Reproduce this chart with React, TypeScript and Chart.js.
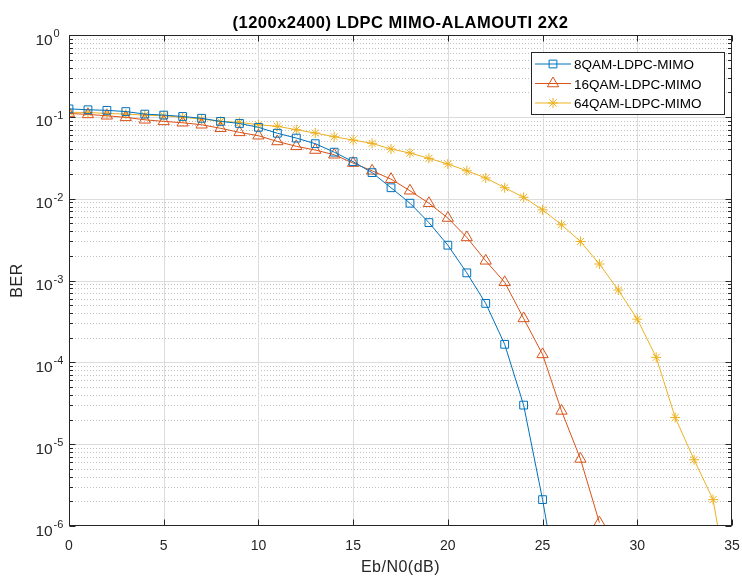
import React, { useEffect, useRef } from 'react';
import { Chart, registerables } from 'chart.js';

Chart.register(...registerables);

// ---- data ----
const ebN0 = [0, 1, 2, 3, 4, 5, 6, 7, 8, 9, 10, 11, 12, 13, 14, 15, 16, 17, 18, 19, 20, 21, 22, 23, 24, 25, 26, 27, 28, 29, 30, 31, 32, 33, 34, 35];

const ber8QAM = [0.125, 0.122, 0.12, 0.116, 0.108, 0.105, 0.101, 0.096, 0.088, 0.083, 0.0744, 0.063, 0.055, 0.047, 0.037, 0.0283, 0.0208, 0.0136, 0.0088, 0.0051, 0.0027, 0.00124, 0.000525, 0.000166, 3.0e-5, 2.1e-6, 1.0e-7];

const ber16QAM = [0.110, 0.107, 0.103, 0.0986, 0.092, 0.088, 0.0847, 0.080, 0.0724, 0.0646, 0.0588, 0.050, 0.0436, 0.0393, 0.0344, 0.0272, 0.0219, 0.0173, 0.0125, 0.0088, 0.0058, 0.00336, 0.00174, 0.00095, 0.000344, 0.000125, 2.55e-5, 6.6e-6, 1.1e-6];

const ber64QAM = [0.1135, 0.113, 0.110, 0.108, 0.105, 0.103, 0.0986, 0.094, 0.088, 0.0857, 0.080, 0.0766, 0.0696, 0.0634, 0.0571, 0.052, 0.0474, 0.0404, 0.0361, 0.0311, 0.0265, 0.0219, 0.0179, 0.0136, 0.0104, 0.0073, 0.0048, 0.0030, 0.00159, 0.000764, 0.000337, 0.000115, 2.12e-5, 6.45e-6, 2.1e-6, 1.0e-7];

const seriesNames = ['8QAM-LDPC-MIMO', '16QAM-LDPC-MIMO', '64QAM-LDPC-MIMO'];
const xTickValues = [0, 5, 10, 15, 20, 25, 30, 35];
const yTickExponents = [0, -1, -2, -3, -4, -5, -6];

const titleText = '(1200x2400) LDPC MIMO-ALAMOUTI 2X2';
const xLabelText = 'Eb/N0(dB)';
const yLabelText = 'BER';

const COLORS = ['#0072BD', '#D95319', '#EDB120'];
const STYLES = ['rect', 'triangle', 'star'];
const RADII = [5.5, 6.5, 5];
const AXIS = '#262626';
const FONT = '"Liberation Sans", Arial, Helvetica, sans-serif';

function drawMarker(ctx: CanvasRenderingContext2D, style: string, cx: number, cy: number, r: number) {
  ctx.beginPath();
  if (style === 'rect') {
    const s = r * Math.SQRT1_2;
    ctx.rect(cx - s, cy - s, 2 * s, 2 * s);
  } else if (style === 'triangle') {
    ctx.moveTo(cx, cy - r);
    ctx.lineTo(cx + 0.866 * r, cy + 0.5 * r);
    ctx.lineTo(cx - 0.866 * r, cy + 0.5 * r);
    ctx.closePath();
  } else {
    for (let i = 0; i < 4; i++) {
      const ang = (i * Math.PI) / 4;
      ctx.moveTo(cx - Math.sin(ang) * r, cy - Math.cos(ang) * r);
      ctx.lineTo(cx + Math.sin(ang) * r, cy + Math.cos(ang) * r);
    }
  }
  ctx.stroke();
}

const matlabPlugin = {
  id: 'matlabLook',
  beforeDatasetsDraw(chart: any) {
    const { ctx, chartArea: a, scales } = chart;
    const xs = scales.x;
    const ys = scales.y;
    ctx.save();
    ctx.lineWidth = 1;
    // minor dotted grid (y)
    ctx.strokeStyle = '#c2c2c2';
    ctx.setLineDash([1, 2]);
    for (let e = -6; e < 0; e++) {
      for (let k = 2; k <= 9; k++) {
        const py = Math.round(ys.getPixelForValue(k * Math.pow(10, e))) + 0.5;
        ctx.beginPath();
        ctx.moveTo(a.left, py);
        ctx.lineTo(a.right, py);
        ctx.stroke();
      }
    }
    ctx.setLineDash([]);
    ctx.strokeStyle = '#dcdcdc';
    for (const e of yTickExponents) {
      if (e === 0 || e === -6) continue;
      const py = Math.round(ys.getPixelForValue(Math.pow(10, e))) + 0.5;
      ctx.beginPath();
      ctx.moveTo(a.left, py);
      ctx.lineTo(a.right, py);
      ctx.stroke();
    }
    for (const v of xTickValues) {
      if (v === 0 || v === 35) continue;
      const px = Math.round(xs.getPixelForValue(v)) + 0.5;
      ctx.beginPath();
      ctx.moveTo(px, a.top);
      ctx.lineTo(px, a.bottom);
      ctx.stroke();
    }
    ctx.restore();
  },
  afterDraw(chart: any) {
    const { ctx, chartArea: a, scales } = chart;
    const xs = scales.x;
    const ys = scales.y;
    ctx.save();
    // box
    ctx.strokeStyle = AXIS;
    ctx.lineWidth = 1;
    const L = Math.round(a.left) + 0.5;
    const R = Math.round(a.right) - 0.5;
    const T = Math.round(a.top) + 0.5;
    const B = Math.round(a.bottom) - 0.5;
    ctx.strokeRect(L, T, R - L, B - T);
    // ticks
    ctx.beginPath();
    for (const v of xTickValues) {
      const px = Math.round(xs.getPixelForValue(v)) + 0.5;
      ctx.moveTo(px, B);
      ctx.lineTo(px, B - 6);
      ctx.moveTo(px, T);
      ctx.lineTo(px, T + 6);
    }
    for (let e = -6; e <= 0; e++) {
      const py = Math.round(ys.getPixelForValue(Math.pow(10, e))) + 0.5;
      ctx.moveTo(L, py);
      ctx.lineTo(L + 6, py);
      ctx.moveTo(R, py);
      ctx.lineTo(R - 6, py);
      if (e < 0) {
        for (let k = 2; k <= 9; k++) {
          const pm = Math.round(ys.getPixelForValue(k * Math.pow(10, e))) + 0.5;
          ctx.moveTo(L, pm);
          ctx.lineTo(L + 3.5, pm);
          ctx.moveTo(R, pm);
          ctx.lineTo(R - 3.5, pm);
        }
      }
    }
    ctx.stroke();

    // x tick labels
    ctx.fillStyle = AXIS;
    ctx.font = `14px ${FONT}`;
    ctx.textAlign = 'center';
    ctx.textBaseline = 'alphabetic';
    for (const v of xTickValues) {
      ctx.fillText(String(v), xs.getPixelForValue(v), a.bottom + 24);
    }
    // y tick labels 10^e
    for (const e of yTickExponents) {
      const py = ys.getPixelForValue(Math.pow(10, e));
      ctx.textAlign = 'left';
      ctx.font = `15.5px ${FONT}`;
      ctx.fillText('10', 35.5, py + 9.5);
      ctx.font = `11px ${FONT}`;
      ctx.fillText(String(e), 53.5, py + 2);
    }
    // axis labels
    ctx.font = `16px ${FONT}`;
    (ctx as any).letterSpacing = '0.5px';
    ctx.textAlign = 'center';
    ctx.fillText(xLabelText, (a.left + a.right) / 2, 571.5);
    ctx.save();
    ctx.translate(21.5, (a.top + a.bottom) / 2);
    ctx.rotate(-Math.PI / 2);
    ctx.fillText(yLabelText, 0, 0);
    ctx.restore();
    // title
    ctx.fillStyle = '#000000';
    ctx.font = `bold 16.5px ${FONT}`;
    (ctx as any).letterSpacing = '0.5px';
    ctx.fillText(titleText, (a.left + a.right) / 2, 27.5);
    (ctx as any).letterSpacing = '0px';

    // legend
    const bx = 531.5, by = 52.5, bw = 193, bh = 62;
    ctx.fillStyle = '#ffffff';
    ctx.fillRect(bx, by, bw, bh);
    ctx.strokeStyle = AXIS;
    ctx.lineWidth = 1;
    ctx.strokeRect(bx, by, bw, bh);
    const rowY = [64, 83.5, 103];
    ctx.font = `13.5px ${FONT}`;
    ctx.textAlign = 'left';
    for (let i = 0; i < 3; i++) {
      const cy = rowY[i];
      ctx.strokeStyle = COLORS[i];
      ctx.lineWidth = 1;
      ctx.beginPath();
      ctx.moveTo(535, cy);
      ctx.lineTo(571, cy);
      ctx.stroke();
      drawMarker(ctx, STYLES[i], 553, cy, RADII[i]);
      ctx.fillStyle = '#000000';
      ctx.fillText(seriesNames[i], 574, cy + 5);
    }
    ctx.restore();
  },
};

export default function App() {
  const canvasRef = useRef<HTMLCanvasElement | null>(null);

  useEffect(() => {
    const canvas = canvasRef.current;
    if (!canvas) return;
    const allSeries = [ber8QAM, ber16QAM, ber64QAM];
    const chart = new Chart(canvas, {
      type: 'line',
      data: {
        datasets: allSeries.map((vals, i) => ({
          label: seriesNames[i],
          data: vals.map((v, j) => ({ x: ebN0[j], y: v })),
          borderColor: COLORS[i],
          backgroundColor: 'rgba(0,0,0,0)',
          borderWidth: 1,
          pointStyle: STYLES[i] as any,
          pointRadius: RADII[i],
          pointBorderWidth: 1,
          pointBorderColor: COLORS[i],
          pointBackgroundColor: 'rgba(0,0,0,0)',
          tension: 0,
          fill: false,
          clip: 0,
        })),
      },
      options: {
        animation: false,
        responsive: false,
        devicePixelRatio: 1,
        layout: { padding: { left: 69, right: 10, top: 35, bottom: 50 } },
        plugins: {
          legend: { display: false },
          title: { display: false },
          tooltip: { enabled: false },
        },
        scales: {
          x: { type: 'linear', min: 0, max: 35, display: false },
          y: { type: 'logarithmic', min: 1e-6, max: 1, display: false },
        },
      },
      plugins: [matlabPlugin],
    });
    return () => chart.destroy();
  }, []);

  return (
    <div style={{ position: 'absolute', left: 0, top: 0, width: 742, height: 576, background: '#ffffff' }}>
      <canvas ref={canvasRef} width={742} height={576} style={{ display: 'block' }} />
    </div>
  );
}
